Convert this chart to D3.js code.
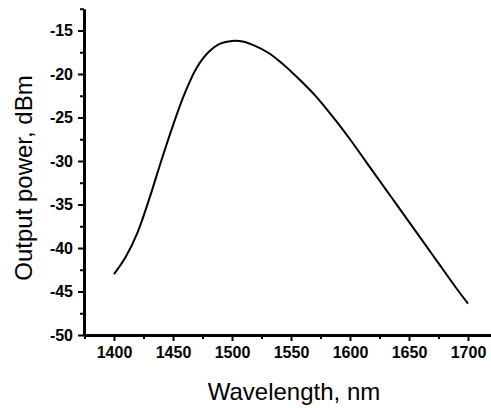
<!DOCTYPE html>
<html>
<head>
<meta charset="utf-8">
<script src="https://cdn.jsdelivr.net/npm/d3@7"></script>
<style>
  body { margin: 0; background: #fff; }
  svg { display: block; font-family: "Liberation Sans", Arial, sans-serif; }
  .tick text { font-family: "Liberation Sans", Arial, sans-serif; font-size: 16px; font-weight: bold; fill: #000; }
</style>
</head>
<body>
<div id="chart"></div>
<script>
// wavelength (nm) and output power (dBm)
var wavelength = [1400, 1410, 1420, 1430, 1440, 1450, 1460, 1470, 1480, 1490,
  1500, 1510, 1520, 1530, 1540, 1550, 1560, 1570, 1580, 1590,
  1600, 1610, 1620, 1630, 1640, 1650, 1660, 1670, 1680, 1690, 1700];
var power = [-43.0, -41.0, -38.2, -34.3, -30.0, -25.9, -22.2, -19.3, -17.5, -16.5,
  -16.2, -16.3, -16.8, -17.5, -18.5, -19.7, -21.0, -22.4, -24.0, -25.7,
  -27.5, -29.4, -31.3, -33.2, -35.1, -37.0, -38.9, -40.8, -42.7, -44.6, -46.4];
var xTicks = [1400, 1450, 1500, 1550, 1600, 1650, 1700];
var xMinor = [1375, 1425, 1475, 1525, 1575, 1625, 1675];
var yTicks = [-50, -45, -40, -35, -30, -25, -20, -15];
var yMinor = [-47.5, -42.5, -37.5, -32.5, -27.5, -22.5, -17.5, -12.5];

var W = 491, H = 408;
var svg = d3.select("#chart").append("svg")
  .attr("width", W).attr("height", H);

var x = d3.scaleLinear().domain([1375, 1720]).range([84.5, 491.6]);
var y = d3.scaleLinear().domain([-50, -12.5]).range([335, 8.75]);

var data = wavelength.map(function (d, i) { return [d, power[i]]; });
var plain = function (d) { return String(d); };

// minor ticks
svg.append("g")
  .attr("transform", "translate(0,335)")
  .call(d3.axisBottom(x).tickValues(xMinor).tickSize(4).tickFormat(""))
  .call(function (g) { g.select(".domain").remove(); })
  .selectAll("line").attr("stroke-width", 2);
svg.append("g")
  .attr("transform", "translate(84,0)")
  .call(d3.axisLeft(y).tickValues(yMinor).tickSize(4).tickFormat(""))
  .call(function (g) { g.select(".domain").remove(); })
  .selectAll("line").attr("stroke-width", 2);

// X axis
var gx = svg.append("g")
  .attr("transform", "translate(0,335)")
  .call(d3.axisBottom(x).tickValues(xTicks).tickFormat(plain)
    .tickSize(6).tickSizeOuter(0).tickPadding(6));
gx.select(".domain").attr("stroke-width", 3);
gx.selectAll(".tick line").attr("stroke-width", 2);

// Y axis
var gy = svg.append("g")
  .attr("transform", "translate(84,0)")
  .call(d3.axisLeft(y).tickValues(yTicks).tickFormat(plain)
    .tickSize(6).tickSizeOuter(0).tickPadding(5));
gy.select(".domain").attr("stroke-width", 3);
gy.selectAll(".tick line").attr("stroke-width", 2);

// curve
svg.append("path")
  .datum(data)
  .attr("fill", "none")
  .attr("stroke", "#000")
  .attr("stroke-width", 2)
  .attr("d", d3.line()
    .x(function (d) { return x(d[0]); })
    .y(function (d) { return y(d[1]); })
    .curve(d3.curveCatmullRom));

// axis titles
svg.append("text")
  .attr("x", 294).attr("y", 400)
  .attr("text-anchor", "middle")
  .attr("font-size", 24)
  .text("Wavelength, nm");

svg.append("text")
  .attr("transform", "translate(32,178) rotate(-90)")
  .attr("text-anchor", "middle")
  .attr("font-size", 24)
  .text("Output power, dBm");
</script>
</body>
</html>
